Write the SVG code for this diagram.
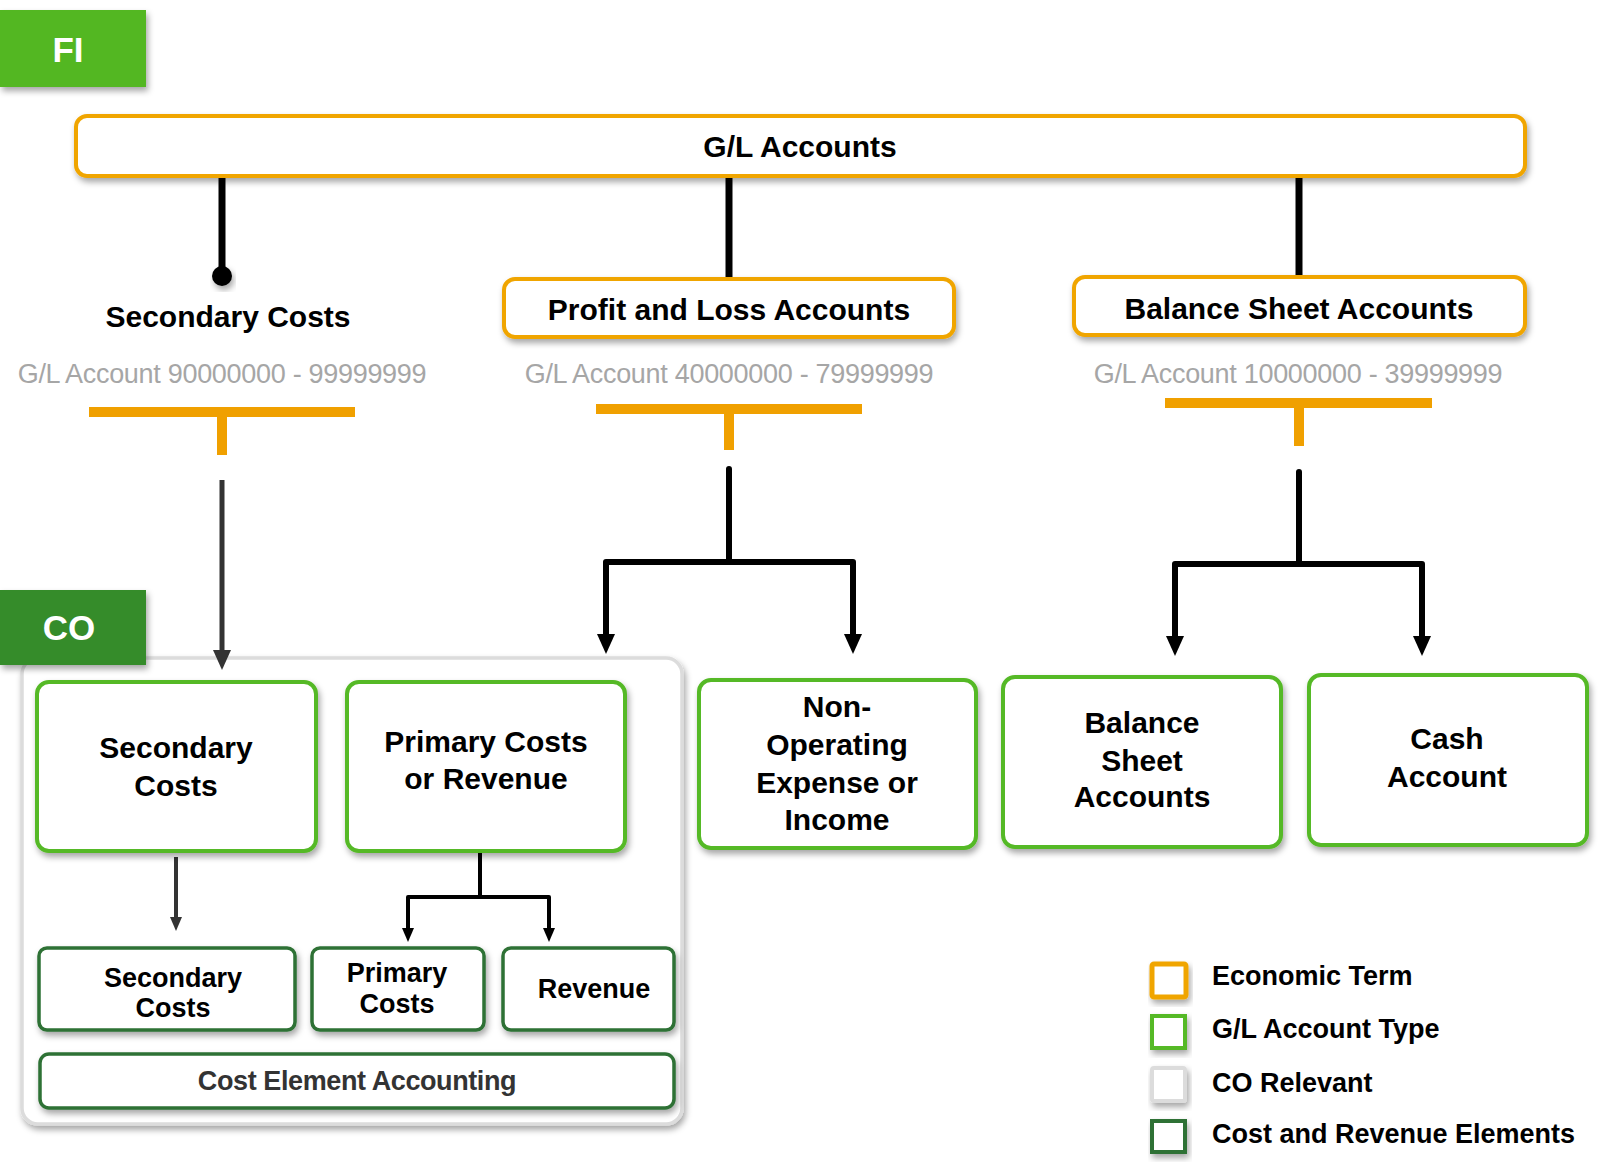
<svg xmlns="http://www.w3.org/2000/svg" width="1600" height="1176" viewBox="0 0 1600 1176">
<defs>
<filter id="sh" x="-10%" y="-10%" width="130%" height="140%">
<feDropShadow dx="2" dy="4" stdDeviation="3" flood-color="#000" flood-opacity="0.35"/>
</filter>
<marker id="ah" markerUnits="userSpaceOnUse" markerWidth="20" markerHeight="20" viewBox="0 0 20 20" refX="0" refY="10" orient="auto">
<path d="M0,1 L20,10 L0,19 z" fill="#000"/>
</marker>
<marker id="ahg" markerUnits="userSpaceOnUse" markerWidth="20" markerHeight="20" viewBox="0 0 20 20" refX="0" refY="10" orient="auto">
<path d="M0,1 L20,10 L0,19 z" fill="#333"/>
</marker>
<marker id="ahs" markerUnits="userSpaceOnUse" markerWidth="14" markerHeight="14" viewBox="0 0 14 14" refX="0" refY="7" orient="auto">
<path d="M0,1 L14,7 L0,13 z" fill="#000"/>
</marker>
<marker id="ahsg" markerUnits="userSpaceOnUse" markerWidth="14" markerHeight="14" viewBox="0 0 14 14" refX="0" refY="7" orient="auto">
<path d="M0,1 L14,7 L0,13 z" fill="#333"/>
</marker>
</defs>
<style>
text{font-family:"Liberation Sans",Arial,Helvetica,sans-serif;font-weight:bold;text-anchor:middle;fill:#000}
.t30{font-size:30px}
.t27{font-size:27px}
.tag{font-size:35px;fill:#fff}
.range{font-size:27px;font-weight:normal;fill:#A6A6A6;letter-spacing:-0.3px}
.leg{font-size:27px;text-anchor:start}
.econ{fill:#fff;stroke:#F0A500;stroke-width:4}
.gltype{fill:#fff;stroke:#55B927;stroke-width:4}
.elem{fill:#fff;stroke:#2D7134;stroke-width:3.5}
.corel{fill:#fff;stroke:#DCDCDC;stroke-width:3.5}
.orange{fill:#F0A000}
.ln{fill:none;stroke:#000;stroke-width:6;stroke-linejoin:round;stroke-linecap:round}
.lng{fill:none;stroke:#333;stroke-width:5}
.lns{fill:none;stroke:#000;stroke-width:4;stroke-linejoin:round}
.lnsg{fill:none;stroke:#333;stroke-width:4}
</style>
<rect width="1600" height="1176" fill="#fff"/>

<g id="co-container">
<rect x="22" y="658" width="660" height="466" rx="16" class="corel" filter="url(#sh)"/>
</g>

<g id="connectors">
<line x1="222" y1="176" x2="222" y2="270" stroke="#000" stroke-width="7"/>
<circle cx="222" cy="276" r="10" fill="#000" filter="url(#sh)"/>
<line x1="729" y1="176" x2="729" y2="279" stroke="#000" stroke-width="7"/>
<line x1="1299" y1="176" x2="1299" y2="277" stroke="#000" stroke-width="7"/>
<rect x="89" y="407" width="266" height="10" class="orange"/>
<rect x="217" y="412" width="10" height="43" class="orange"/>
<rect x="596" y="404" width="266" height="10" class="orange"/>
<rect x="724" y="409" width="10" height="41" class="orange"/>
<rect x="1165" y="398" width="267" height="10" class="orange"/>
<rect x="1294" y="403" width="10" height="43" class="orange"/>
<line x1="222" y1="480" x2="222" y2="650" class="lng" marker-end="url(#ahg)"/>
<path d="M729,469 V562 M606,634 V562 H853 V634" class="ln"/>
<line x1="606" y1="630" x2="606" y2="634" class="ln" stroke-linecap="butt" marker-end="url(#ah)"/>
<line x1="853" y1="630" x2="853" y2="634" class="ln" stroke-linecap="butt" marker-end="url(#ah)"/>
<path d="M1299,472 V564 M1175,636 V564 H1422 V636" class="ln"/>
<line x1="1175" y1="632" x2="1175" y2="636" class="ln" stroke-linecap="butt" marker-end="url(#ah)"/>
<line x1="1422" y1="632" x2="1422" y2="636" class="ln" stroke-linecap="butt" marker-end="url(#ah)"/>
<line x1="176" y1="857" x2="176" y2="917" class="lnsg" marker-end="url(#ahsg)"/>
<path d="M480,851 V897 M408,928 V897 H549 V928" class="lns"/>
<line x1="408" y1="924" x2="408" y2="928" class="lns" marker-end="url(#ahs)"/>
<line x1="549" y1="924" x2="549" y2="928" class="lns" marker-end="url(#ahs)"/>
</g>

<g id="fi-tag">
<rect x="0" y="10" width="146" height="77" fill="#52B720" filter="url(#sh)"/>
<text x="68" y="62" class="tag">FI</text>
</g>

<g id="gl-accounts">
<rect x="76" y="116" width="1449" height="60" rx="11" class="econ" filter="url(#sh)"/>
<text x="800" y="157" class="t30">G/L Accounts</text>
</g>

<g id="secondary-costs-term">
<text x="228" y="327" class="t30">Secondary  Costs</text>
<text x="222" y="383" class="range">G/L Account 90000000 - 99999999</text>
</g>

<g id="profit-loss">
<rect x="504" y="279" width="450" height="58" rx="11" class="econ" filter="url(#sh)"/>
<text x="729" y="320" class="t30">Profit and Loss Accounts</text>
<text x="729" y="383" class="range">G/L Account 40000000 - 79999999</text>
</g>

<g id="balance-sheet">
<rect x="1074" y="277" width="451" height="58" rx="11" class="econ" filter="url(#sh)"/>
<text x="1299" y="319" class="t30">Balance Sheet Accounts</text>
<text x="1298" y="383" class="range">G/L Account 10000000 - 39999999</text>
</g>

<g id="co-tag">
<rect x="0" y="590" width="146" height="75" fill="#368C2B" filter="url(#sh)"/>
<text x="69" y="640" class="tag">CO</text>
</g>

<g id="gl-secondary">
<rect x="37" y="682" width="279" height="169" rx="12" class="gltype" filter="url(#sh)"/>
<text x="176" y="758" class="t30">Secondary</text>
<text x="176" y="796" class="t30">Costs</text>
</g>

<g id="gl-primary">
<rect x="347" y="682" width="278" height="169" rx="12" class="gltype" filter="url(#sh)"/>
<text x="486" y="752" class="t30">Primary Costs</text>
<text x="486" y="789" class="t30">or Revenue</text>
</g>

<g id="gl-nonop">
<rect x="699" y="680" width="277" height="168" rx="12" class="gltype" filter="url(#sh)"/>
<text x="837" y="717" class="t30">Non-</text>
<text x="837" y="755" class="t30">Operating</text>
<text x="837" y="793" class="t30">Expense or</text>
<text x="837" y="830" class="t30">Income</text>
</g>

<g id="gl-balance">
<rect x="1003" y="677" width="278" height="170" rx="12" class="gltype" filter="url(#sh)"/>
<text x="1142" y="733" class="t30">Balance</text>
<text x="1142" y="771" class="t30">Sheet</text>
<text x="1142" y="807" class="t30">Accounts</text>
</g>

<g id="gl-cash">
<rect x="1309" y="675" width="278" height="170" rx="12" class="gltype" filter="url(#sh)"/>
<text x="1447" y="749" class="t30">Cash</text>
<text x="1447" y="787" class="t30">Account</text>
</g>

<g id="el-secondary">
<rect x="39" y="948" width="256" height="82" rx="8" class="elem" filter="url(#sh)"/>
<text x="173" y="987" class="t27">Secondary</text>
<text x="173" y="1017" class="t27">Costs</text>
</g>

<g id="el-primary">
<rect x="312" y="948" width="172" height="82" rx="8" class="elem" filter="url(#sh)"/>
<text x="397" y="982" class="t27">Primary</text>
<text x="397" y="1013" class="t27">Costs</text>
</g>

<g id="el-revenue">
<rect x="503" y="948" width="171" height="82" rx="8" class="elem" filter="url(#sh)"/>
<text x="594" y="998" class="t27">Revenue</text>
</g>

<g id="cost-element-accounting">
<rect x="40" y="1054" width="634" height="54" rx="9" class="elem" filter="url(#sh)"/>
<text x="357" y="1090" class="t27" style="fill:#333;letter-spacing:-0.4px">Cost Element Accounting</text>
</g>

<g id="legend">
<rect x="1152" y="964" width="34" height="33" rx="2" fill="#fff" stroke="#F0A500" stroke-width="5" filter="url(#sh)"/>
<text x="1212" y="985" class="leg">Economic Term</text>
<rect x="1152" y="1016" width="33" height="32" fill="#fff" stroke="#55B927" stroke-width="4" filter="url(#sh)"/>
<text x="1212" y="1038" class="leg">G/L Account Type</text>
<rect x="1152" y="1068" width="33" height="33" rx="2" fill="#fff" stroke="#DCDCDC" stroke-width="4" filter="url(#sh)"/>
<text x="1212" y="1092" class="leg">CO Relevant</text>
<rect x="1152" y="1121" width="33" height="31" fill="#fff" stroke="#2D7134" stroke-width="4" filter="url(#sh)"/>
<text x="1212" y="1143" class="leg">Cost and Revenue Elements</text>
</g>
</svg>
